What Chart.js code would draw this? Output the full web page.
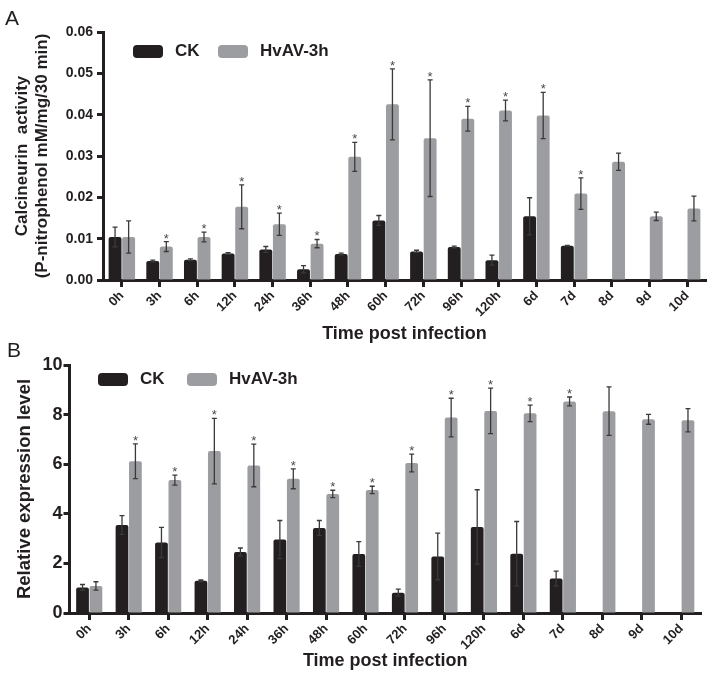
<!DOCTYPE html>
<html>
<head>
<meta charset="utf-8">
<script src="https://cdn.jsdelivr.net/npm/chart.js@4/dist/chart.umd.min.js"></script>
<style>
  body { margin: 0; background: #fff; }
  .panel { position: absolute; left: 0; width: 716px; }
  #panelA { top: 0; height: 345px; }
  #panelB { top: 335px; height: 340px; }
</style>
</head>
<body>
<div class="panel" id="panelA"><canvas id="chartA"></canvas></div>
<div class="panel" id="panelB"><canvas id="chartB"></canvas></div>
<script>
const timePoints = ['0h', '3h', '6h', '12h', '24h', '36h', '48h', '60h', '72h', '96h', '120h', '6d', '7d', '8d', '9d', '10d'];
const seriesNames = ['CK', 'HvAV-3h'];

// panel A - calcineurin activity
const ckActivity = [0.0104, 0.0046, 0.0049, 0.0064, 0.0074, 0.0026, 0.0063, 0.0144, 0.0069, 0.0080, 0.0048, 0.0154, 0.0083, null, null, null];
const ckActivityErr = [0.0024, 0.0002, 0.0002, 0.0002, 0.0007, 0.0009, 0.0002, 0.0012, 0.0003, 0.0002, 0.0012, 0.0045, 0.0001, null, null, null];
const hvavActivity = [0.0104, 0.0081, 0.0104, 0.0177, 0.0135, 0.0088, 0.0298, 0.0425, 0.0343, 0.0390, 0.0410, 0.0398, 0.0209, 0.0286, 0.0154, 0.0173];
const hvavActivityErr = [0.0039, 0.0012, 0.0012, 0.0053, 0.0027, 0.0010, 0.0035, 0.0086, 0.0141, 0.0030, 0.0025, 0.0056, 0.0038, 0.0021, 0.0010, 0.0030];

// panel B - relative expression
const ckExpression = [1.03, 3.55, 2.84, 1.30, 2.46, 2.96, 3.43, 2.38, 0.82, 2.28, 3.47, 2.39, 1.39, null, null, null];
const ckExpressionErr = [0.12, 0.38, 0.61, 0.03, 0.16, 0.77, 0.30, 0.50, 0.14, 0.94, 1.50, 1.30, 0.30, null, null, null];
const hvavExpression = [1.09, 6.12, 5.36, 6.53, 5.95, 5.41, 4.80, 4.96, 6.05, 7.88, 8.15, 8.05, 8.53, 8.14, 7.81, 7.77];
const hvavExpressionErr = [0.17, 0.70, 0.20, 1.32, 0.86, 0.40, 0.15, 0.15, 0.36, 0.78, 0.92, 0.33, 0.18, 0.98, 0.20, 0.47];

// significance marks (*) above HvAV bars
const significant = [false, true, true, true, true, true, true, true, true, true, true, true, true, false, false, false];

const INK = '#231f20';
const GREY = '#9c9da1';
const FONT = "'Liberation Sans', Arial, sans-serif";
Chart.defaults.font.family = FONT;
Chart.defaults.color = INK;

function roundRect(ctx, x, y, w, h, r) {
    ctx.beginPath();
    ctx.moveTo(x + r, y);
    ctx.arcTo(x + w, y, x + w, y + h, r);
    ctx.arcTo(x + w, y + h, x, y + h, r);
    ctx.arcTo(x, y + h, x, y, r);
    ctx.arcTo(x, y, x + w, y, r);
    ctx.closePath();
}

const errorBars = {
    id: 'errorBars',
    afterDatasetsDraw(chart) {
        const ctx = chart.ctx;
        const y = chart.scales.y;
        ctx.save();
        chart.data.datasets.forEach(function (ds, di) {
            const meta = chart.getDatasetMeta(di);
            meta.data.forEach(function (bar, i) {
                const v = ds.data[i], e = ds.errors[i];
                if (v == null || e == null) return;
                const top = y.getPixelForValue(v + e);
                const bot = y.getPixelForValue(v - e);
                ctx.strokeStyle = '#3a3a3a';
                ctx.lineWidth = 1.3;
                ctx.beginPath();
                ctx.moveTo(bar.x, top); ctx.lineTo(bar.x, bot);
                ctx.moveTo(bar.x - 2.5, top); ctx.lineTo(bar.x + 2.5, top);
                ctx.moveTo(bar.x - 2.5, bot); ctx.lineTo(bar.x + 2.5, bot);
                ctx.stroke();
                if (ds.stars && ds.stars[i]) {
                    ctx.fillStyle = '#4a4a4a';
                    ctx.font = '13px ' + FONT;
                    ctx.textAlign = 'center';
                    ctx.textBaseline = 'alphabetic';
                    ctx.fillText('*', bar.x, top + 1);
                }
            });
        });
        ctx.restore();
    }
};

const decor = {
    id: 'decor',
    afterDraw(chart, args, opts) {
        const ctx = chart.ctx;
        ctx.save();
        ctx.fillStyle = INK;
        ctx.font = '21px ' + FONT;
        ctx.textAlign = 'left';
        ctx.textBaseline = 'alphabetic';
        ctx.fillText(opts.panel, opts.panelX, opts.panelY);
        ctx.font = 'bold 17px ' + FONT;
        ctx.textBaseline = 'middle';
        chart.data.datasets.forEach(function (ds, i) {
            const x = opts.legendX[i];
            ctx.fillStyle = ds.backgroundColor;
            roundRect(ctx, x, opts.legendY - 6.5, 30, 13, 4);
            ctx.fill();
            ctx.fillStyle = INK;
            ctx.fillText(ds.label, x + 42, opts.legendY);
        });
        ctx.restore();
    }
};

function makeChart(id, cfg) {
    return new Chart(document.getElementById(id), {
        type: 'bar',
        data: {
            labels: timePoints,
            datasets: [
                { label: seriesNames[0], data: cfg.ck, errors: cfg.ckErr, backgroundColor: INK,
                  categoryPercentage: cfg.catPct, barPercentage: 0.95, borderRadius: 2 },
                { label: seriesNames[1], data: cfg.hv, errors: cfg.hvErr, stars: significant, backgroundColor: GREY,
                  categoryPercentage: cfg.catPct, barPercentage: 0.95, borderRadius: 2 }
            ]
        },
        options: {
            responsive: true,
            maintainAspectRatio: false,
            animation: false,
            layout: { padding: cfg.padding },
            plugins: {
                legend: { display: false },
                tooltip: { enabled: false },
                decor: cfg.decor
            },
            scales: {
                x: {
                    grid: { offset: false, drawOnChartArea: false, tickLength: 7, tickWidth: 3, tickColor: INK },
                    border: { color: INK, width: 3 },
                    ticks: { color: INK, font: { size: 13, weight: 'bold' }, minRotation: 45, maxRotation: 45, padding: 1, autoSkip: false },
                    title: { display: true, text: 'Time post infection', color: INK,
                             font: { size: 18, weight: 'bold' }, padding: { top: 0, bottom: cfg.xTitlePad } },
                    afterFit: function (s) { s.height = cfg.xHeight; }
                },
                y: {
                    min: 0,
                    max: cfg.yMax,
                    grid: { drawOnChartArea: false, tickLength: 6, tickWidth: 3, tickColor: INK },
                    border: { color: INK, width: 3 },
                    ticks: { stepSize: cfg.yStep, color: INK, padding: cfg.yTickPad,
                             font: { size: cfg.yTickSize, weight: 'bold' }, callback: cfg.yFormat },
                    title: { display: true, text: cfg.yTitle, color: INK,
                             font: { size: cfg.yTitleSize, weight: 'bold', lineHeight: 1.2 }, padding: { top: cfg.yTitlePad, bottom: 0 } },
                    afterFit: function (s) { s.width = cfg.yWidth; }
                }
            }
        },
        plugins: [errorBars, decor]
    });
}

makeChart('chartA', {
    ck: ckActivity, ckErr: ckActivityErr, hv: hvavActivity, hvErr: hvavActivityErr,
    catPct: 0.72,
    padding: { left: 0, top: 32, right: 10, bottom: 0 },
    xHeight: 65, xTitlePad: 0,
    yMax: 0.06, yStep: 0.01, yTickPad: 4, yTickSize: 14,
    yFormat: function (v) { return v.toFixed(2); },
    yTitle: ['Calcineurin  activity', '(P-nitrophenol mM/mg/30 min)'], yTitleSize: 17, yTitlePad: 12,
    yWidth: 103,
    decor: { panel: 'A', panelX: 5, panelY: 25, legendX: [133, 218], legendY: 51.5 }
});

makeChart('chartB', {
    ck: ckExpression, ckErr: ckExpressionErr, hv: hvavExpression, hvErr: hvavExpressionErr,
    catPct: 0.68,
    padding: { left: 0, top: 30, right: 15, bottom: 0 },
    xHeight: 62, xTitlePad: 3,
    yMax: 10, yStep: 2, yTickPad: 1, yTickSize: 18,
    yFormat: function (v) { return v; },
    yTitle: 'Relative expression level', yTitleSize: 18.5, yTitlePad: 14,
    yWidth: 69.5,
    decor: { panel: 'B', panelX: 7, panelY: 22, legendX: [98, 187], legendY: 44.5 }
});
</script>
</body>
</html>
